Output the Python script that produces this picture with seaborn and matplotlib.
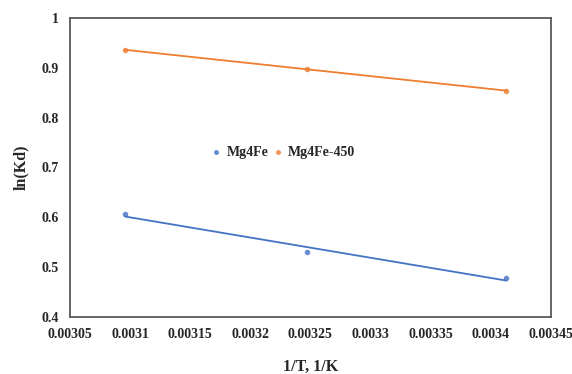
import numpy as np
import pandas as pd
import matplotlib
matplotlib.use("Agg")
import matplotlib.pyplot as plt
import seaborn as sns

# data
inv_T = [0.0030960, 0.0032468, 0.0034130]
ln_kd_mg4fe = [0.606, 0.531, 0.477]
ln_kd_mg4fe_450 = [0.936, 0.897, 0.854]
series_names = ["Mg4Fe", "Mg4Fe-450"]
series_colors = ["#4472C4", "#ED7D31"]
x_ticks = [0.00305, 0.0031, 0.00315, 0.0032, 0.00325, 0.0033, 0.00335, 0.0034, 0.00345]
x_tick_labels = ["0.00305", "0.0031", "0.00315", "0.0032", "0.00325", "0.0033", "0.00335", "0.0034", "0.00345"]
y_ticks = [0.4, 0.5, 0.6, 0.7, 0.8, 0.9, 1.0]
y_tick_labels = ["0.4", "0.5", "0.6", "0.7", "0.8", "0.9", "1"]

df = pd.DataFrame({
    "x": inv_T * 2,
    "y": ln_kd_mg4fe + ln_kd_mg4fe_450,
    "sample": [series_names[0]] * 3 + [series_names[1]] * 3,
})

sns.set_style("white")
plt.rcParams["font.family"] = ["Liberation Serif", "DejaVu Serif"]
plt.rcParams["font.weight"] = "bold"

fig = plt.figure(figsize=(5.72, 3.74), dpi=100)
ax = fig.add_axes([0.1224, 0.153, 0.8406, 0.799])

# linear trendlines + points
for name, color in zip(series_names, series_colors):
    sub = df[df["sample"] == name]
    sns.regplot(data=sub, x="x", y="y", ax=ax, ci=None, color=color, label=name,
                scatter_kws={"s": 16, "linewidths": 0, "zorder": 3},
                line_kws={"linewidth": 1.3, "label": "_nolegend_"})

ax.set_xlim(0.00305, 0.00345)
ax.set_ylim(0.4, 1.0)
ax.set_xticks(x_ticks)
ax.set_xticklabels(x_tick_labels)
ax.set_yticks(y_ticks)
ax.set_yticklabels(y_tick_labels)
ax.tick_params(length=0, labelsize=10)
ax.tick_params(axis="x", pad=8)
ax.tick_params(axis="y", pad=8)
for lab in ax.get_xticklabels() + ax.get_yticklabels():
    lab.set_fontweight("bold")

for sp in ax.spines.values():
    sp.set_visible(True)
    sp.set_color("#595959")
    sp.set_linewidth(1.3)

ax.set_xlabel("1/T, 1/K", fontsize=11.5, fontweight="bold")
ax.xaxis.set_label_coords(0.5, -0.14)
ax.set_ylabel("ln(Kd)", fontsize=11.5, fontweight="bold", labelpad=9)

handles, labels = ax.get_legend_handles_labels()
keep = [(h, l) for h, l in zip(handles, labels) if l in series_names]
ax.legend([h for h, l in keep], [l for h, l in keep], loc="center",
          bbox_to_anchor=(0.445, 0.551), ncol=2, frameon=False,
          handlelength=0.5, handletextpad=0.5, columnspacing=0.4, markerscale=0.9,
          prop={"weight": "bold", "size": 10})

fig.savefig("out.png", dpi=100)
